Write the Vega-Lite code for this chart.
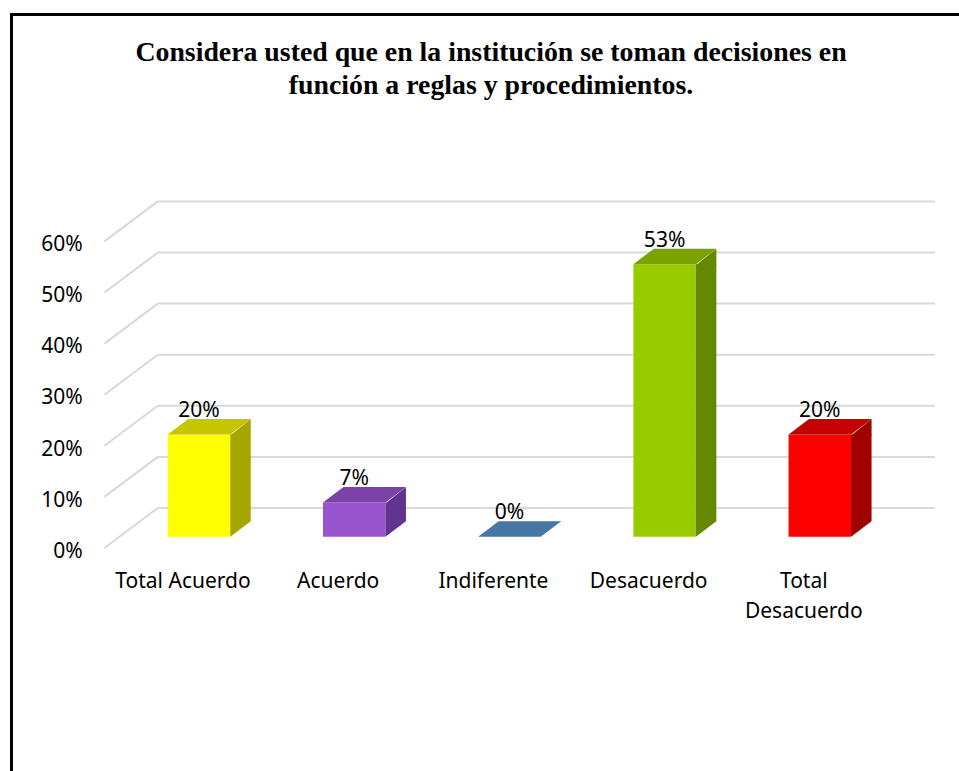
{
  "$schema": "https://vega.github.io/schema/vega-lite/v6.json",
  "width": 947.5,
  "height": 756.5,
  "autosize": {"type": "none"},
  "padding": {"left": 11.5, "top": 14.5, "right": 0, "bottom": 0},
  "background": "white",
  "title": {
    "text": ["Considera usted que en la institución se toman decisiones en", "función a reglas y procedimientos."],
    "font": "Liberation Serif",
    "fontSize": 27.8,
    "fontWeight": "bold",
    "color": "black",
    "lineHeight": 33,
    "anchor": "middle",
    "frame": "group",
    "baseline": "top",
    "offset": -85,
    "dx": 5.75
  },
  "config": {
    "view": {"stroke": "black", "strokeWidth": 3, "strokeDash": [947.5, 1704, 756.5], "strokeCap": "square"}
  },
  "datasets": {
    "bars": [
      {"cat": "Total Acuerdo", "v": 0.2, "lbl": "Total Acuerdo"},
      {"cat": "Acuerdo", "v": 0.0667, "lbl": "Acuerdo"},
      {"cat": "Indiferente", "v": 0, "lbl": "Indiferente"},
      {"cat": "Desacuerdo", "v": 0.5333, "lbl": "Desacuerdo"},
      {"cat": "Total Desacuerdo", "v": 0.2, "lbl": "Total\nDesacuerdo"}
    ],
    "grid": [
      {"v": 0}, {"v": 0.1}, {"v": 0.2}, {"v": 0.3}, {"v": 0.4}, {"v": 0.5}, {"v": 0.6}
    ]
  },
  "layer": [
    {
      "data": {"name": "grid"},
      "mark": {"type": "rule", "color": "#D9D9D9", "strokeWidth": 2, "xOffset": -78.6, "x2Offset": -25.2, "yOffset": 11.3, "y2Offset": -28.7},
      "encoding": {
        "x": {"datum": "Total Acuerdo", "type": "nominal", "scale": {"domain": ["Total Acuerdo", "Acuerdo", "Indiferente", "Desacuerdo", "Total Desacuerdo"], "range": [93.9, 869.9], "paddingInner": 0, "paddingOuter": 0}, "axis": null},
        "x2": {"datum": "Total Acuerdo"},
        "y": {"field": "v", "type": "quantitative", "scale": {"domain": [0, 0.6], "range": [522.2, 215.6], "nice": false, "zero": true}, "axis": null},
        "y2": {"field": "v"}
      }
    },
    {
      "data": {"name": "grid"},
      "mark": {"type": "rule", "color": "#D9D9D9", "strokeWidth": 2, "xOffset": -25.2, "x2Offset": 131.2, "yOffset": -28.7},
      "encoding": {
        "x": {"datum": "Total Acuerdo", "type": "nominal", "axis": null},
        "x2": {"datum": "Total Desacuerdo"},
        "y": {"field": "v", "type": "quantitative", "axis": null}
      }
    },
    {
      "data": {"name": "grid"},
      "mark": {"type": "text", "align": "right", "baseline": "alphabetic", "font": "Noto Sans", "fontSize": 21, "color": "#000000", "xOffset": -100.3, "yOffset": 21},
      "encoding": {
        "x": {"datum": "Total Acuerdo", "type": "nominal", "axis": null},
        "y": {"field": "v", "type": "quantitative", "axis": null},
        "text": {"field": "v", "type": "quantitative", "format": ".0%"}
      }
    },
    {
      "data": {"name": "bars"},
      "mark": {"type": "bar", "width": 62.5, "xOffset": 16},
      "encoding": {
        "x": {"field": "cat", "type": "nominal", "sort": null, "axis": null},
        "y": {"field": "v", "type": "quantitative", "axis": null},
        "color": {"field": "cat", "type": "nominal", "legend": null, "scale": {"domain": ["Total Acuerdo", "Acuerdo", "Indiferente", "Desacuerdo", "Total Desacuerdo"], "range": ["#FFFF00", "#9953CC", "#4F81BD", "#99CC00", "#FF0000"]}}
      }
    },
    {
      "data": {"name": "bars"},
      "mark": {"type": "bar", "width": 20.5, "xOffset": 57.5},
      "encoding": {
        "x": {"field": "cat", "type": "nominal", "sort": null, "axis": null},
        "y": {"field": "v", "type": "quantitative", "axis": null},
        "color": {"field": "cat", "type": "nominal", "legend": null, "scale": {"domain": ["Total Acuerdo", "Acuerdo", "Indiferente", "Desacuerdo", "Total Desacuerdo"], "range": ["#A6A600", "#613391", "#385D8A", "#658800", "#A00000"]}}
      }
    },
    {
      "data": {"name": "bars"},
      "mark": {"type": "point", "shape": "M0,1L20.5,-15.5L20.5,1Z", "size": 4, "filled": true, "opacity": 1, "strokeWidth": 0, "xOffset": 47.25},
      "encoding": {
        "x": {"field": "cat", "type": "nominal", "sort": null, "axis": null},
        "y": {"field": "v", "type": "quantitative", "axis": null},
        "color": {"field": "cat", "type": "nominal", "legend": null, "scale": {"domain": ["Total Acuerdo", "Acuerdo", "Indiferente", "Desacuerdo", "Total Desacuerdo"], "range": ["#A6A600", "#613391", "#385D8A", "#658800", "#A00000"]}}
      }
    },
    {
      "data": {"name": "bars"},
      "mark": {"type": "point", "shape": "M0,0L20.5,-15.5L23,-15.5L23,2L0,2Z", "size": 4, "filled": true, "opacity": 1, "color": "white", "strokeWidth": 0, "xOffset": 47.25},
      "encoding": {
        "x": {"field": "cat", "type": "nominal", "sort": null, "axis": null},
        "y": {"datum": 0, "type": "quantitative", "axis": null}
      }
    },
    {
      "data": {"name": "bars"},
      "mark": {"type": "point", "shape": "M-31.25,0L31.25,0L51.75,-15.5L-10.75,-15.5Z", "size": 4, "filled": true, "opacity": 1, "strokeWidth": 0, "xOffset": 16},
      "encoding": {
        "x": {"field": "cat", "type": "nominal", "sort": null, "axis": null},
        "y": {"field": "v", "type": "quantitative", "axis": null},
        "color": {"field": "cat", "type": "nominal", "legend": null, "scale": {"domain": ["Total Acuerdo", "Acuerdo", "Indiferente", "Desacuerdo", "Total Desacuerdo"], "range": ["#C6C600", "#7A42A8", "#4677A3", "#7AA300", "#C40000"]}}
      }
    },
    {
      "data": {"name": "bars"},
      "mark": {"type": "text", "align": "center", "baseline": "alphabetic", "font": "Noto Sans", "fontSize": 21, "color": "#000000", "xOffset": 16, "yOffset": -17.5},
      "encoding": {
        "x": {"field": "cat", "type": "nominal", "sort": null, "axis": null},
        "y": {"field": "v", "type": "quantitative", "axis": null},
        "text": {"field": "v", "type": "quantitative", "format": ".0%"}
      }
    },
    {
      "data": {"name": "bars"},
      "mark": {"type": "text", "align": "center", "baseline": "alphabetic", "font": "Noto Sans", "fontSize": 21, "color": "#000000", "lineBreak": "\n", "lineHeight": 30, "yOffset": 51.6},
      "encoding": {
        "x": {"field": "cat", "type": "nominal", "sort": null, "axis": null},
        "y": {"datum": 0, "type": "quantitative", "axis": null},
        "text": {"field": "lbl", "type": "nominal"}
      }
    }
  ],
  "resolve": {"scale": {"color": "independent"}}
}
